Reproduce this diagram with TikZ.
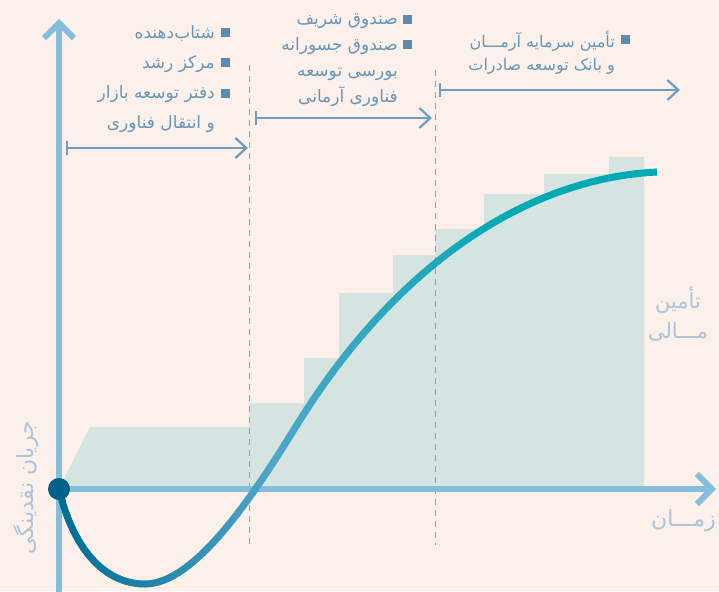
\documentclass[tikz,border=0pt]{standalone}
\usepackage{fontspec}
\usetikzlibrary{arrows.meta,positioning}
\newfontfamily\arabicfont[Script=Arabic]{DejaVu Sans}
\TeXXeTstate=1
\definecolor{bgc}{HTML}{FCF0EA}
\definecolor{axisc}{HTML}{85BEDA}
\definecolor{timec}{HTML}{6E9DC0}
\definecolor{dashc}{HTML}{A09C9A}
\definecolor{txtc}{HTML}{6596BA}
\definecolor{bulc}{HTML}{5A8CB0}
\definecolor{lblc}{HTML}{A9C4DC}
\definecolor{fillA}{HTML}{D5E4E0}
\definecolor{curvA}{HTML}{006E93}
\definecolor{curvB}{HTML}{4FA6C8}
\definecolor{curvC}{HTML}{00AAB4}
\definecolor{dotc}{HTML}{00628A}
\tikzset{
  axisline/.style={draw=axisc, line width=6pt, -{Straight Barb[length=15pt,width=30pt]}},
  timeline/.style={draw=timec, line width=2.2pt, {Bar[width=14pt]}-{Straight Barb[length=11pt,width=20pt]}},
  phase/.style={draw=dashc, line width=1pt, dash pattern=on 6pt off 5pt},
  curveline/.style={line width=7pt},
  itemtext/.style={font=\arabicfont\fontsize{17}{30}\selectfont, text=txtc, align=right, inner sep=0pt},
  bullet/.style={fill=bulc, minimum size=9pt, inner sep=0pt},
  axislabel/.style={font=\arabicfont\fontsize{21}{30}\selectfont, text=lblc, align=center, inner sep=0pt},
}
\newcommand\growthpath{(59,489) .. controls (72,545) and (102,584) .. (145,584) .. controls (200,584) and (265,476) .. (300,420) .. controls (390,276) and (517,179) .. (657,172)}

\begin{document}
\begin{tikzpicture}[x=1pt,y=-1pt]
    \fill[bgc] (0,0) rectangle (719,591);
    \useasboundingbox (0,0) rectangle (719,591);
    % stepped funding area
    \fill[fillA] (59,489) -- (90,427) -- (249,427) -- (249,403) -- (304,403) -- (304,358)
        -- (339,358) -- (339,293) -- (393,293) -- (393,255) -- (435,255) -- (435,229) -- (484,229) -- (484,194)
        -- (544,194) -- (544,174) -- (609,174) -- (609,157) -- (644,157) -- (644,489) -- cycle;
    % phase borders
    \coordinate (p1top) at (249,65);
    \coordinate (p1bot) at (249,545);
    \coordinate (p2top) at (435,70);
    \coordinate (p2bot) at (435,545);
    \draw[phase] (p1top) -- (p1bot);
    \draw[phase] (p2top) -- (p2bot);
    % axes
    \coordinate (o) at (59,489);
    \coordinate (ybot) at (59,600);
    \coordinate (ytop) at (59,19);
    \coordinate (xend) at (716,489);
    \draw[axisline] (ybot) -- (ytop);
    \draw[axisline] (o) -- (xend);
    % cash flow curve
    \foreach \xa in {50,55,...,665}{
        \pgfmathtruncatemacro{\pa}{max(0,min(100,(\xa-60)/2.1))}
        \pgfmathtruncatemacro{\pb}{max(0,min(100,(\xa-270)/2.5))}
        \ifnum\xa<270 \colorlet{segc}{curvB!\pa!curvA}\else\colorlet{segc}{curvC!\pb!curvB}\fi
        \begin{scope}
            \clip (\xa,0) rectangle ++(5.6,600);
            \draw[curveline,segc] \growthpath;
        \end{scope}
    }
    \fill[dotc] (o) circle (11);
    % stages
    \coordinate (t1a) at (66,148);
    \coordinate (t1b) at (248,148);
    \coordinate (t2a) at (255,118);
    \coordinate (t2b) at (432,118);
    \coordinate (t3a) at (439,90);
    \coordinate (t3b) at (680,90);
    \draw[timeline] (t1a) -- (t1b);
    \draw[timeline] (t2a) -- (t2b);
    \draw[timeline] (t3a) -- (t3b);
    \node[itemtext, anchor=north east] (st1) at (215,25) {\beginR شتاب‌دهنده\endR\\ \beginR مرکز رشد\endR\\ \beginR دفتر توسعه بازار\endR\\ \beginR و انتقال فناوری\endR};
    \node[bullet] (b11) at (225,33) {};
    \node[bullet] (b12) at (225,63) {};
    \node[bullet] (b13) at (225,94) {};
    \node[itemtext, anchor=north east, font=\arabicfont\fontsize{17}{26}\selectfont] (st2) at (398,14) {\beginR صندوق شریف\endR\\ \beginR صندوق جسورانه\endR\\ \beginR بورسی توسعه\endR\\ \beginR فناوری آرمانی\endR};
    \node[bullet] (b21) at (407,20) {};
    \node[bullet] (b22) at (407,45) {};
    \node[itemtext, anchor=north east, font=\arabicfont\fontsize{16}{23}\selectfont] (st3) at (615,31) {\beginR تأمین سرمایه آرمـــان\endR\\ \beginR و بانک توسعه صادرات\endR};
    \node[bullet] (b31) at (625,40) {};
    % axis labels
    \node[axislabel, rotate=90, font=\arabicfont\fontsize{22}{30}\selectfont] (ylab) at (26,488) {\beginR جریان نقدینگی\endR};
    \node[axislabel] (flab) at (678,314) {\beginR تأمین\endR\\ \beginR مـــالی\endR};
    \node[axislabel, anchor=east, font=\arabicfont\fontsize{22}{30}\selectfont] (xlab) at (716,521) {\beginR زمـــان\endR};
\end{tikzpicture}
\end{document}
